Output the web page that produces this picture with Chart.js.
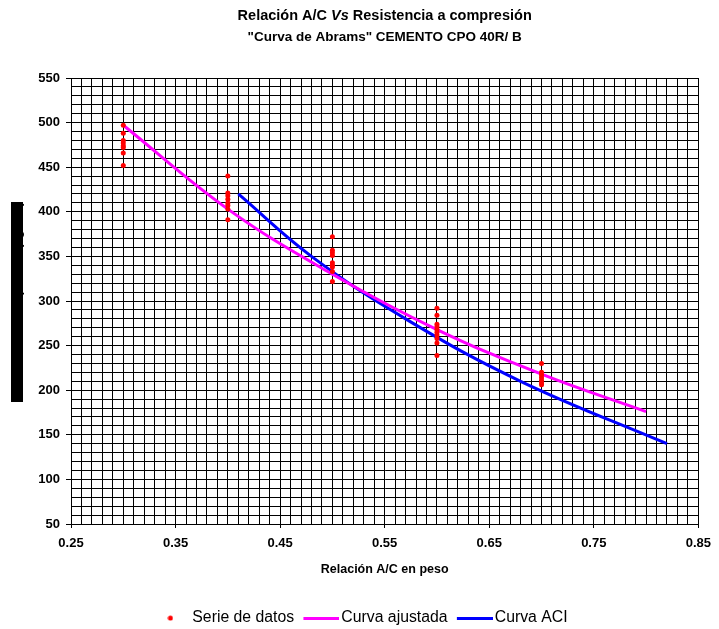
<!DOCTYPE html>
<html lang="es">
<head>
<meta charset="UTF-8">
<title>Relación A/C Vs Resistencia a compresión</title>
<script src="https://cdn.jsdelivr.net/npm/chart.js"></script>
<style>
  body { margin: 0; background: #fff; }
  #wrap { width: 719px; height: 629px; }
</style>
</head>
<body>
<div id="wrap"><canvas id="myChart"></canvas></div>
<script>
// ensayes por relacion A/C (kg/cm2)
const datos030 = [497, 488, 480, 477, 474, 472, 466, 452];
const datos040 = [440, 421, 418, 414, 410, 407, 403, 391];
const datos050 = [372, 357, 354, 351, 343, 340, 338, 333, 322];
const datos060 = [292, 284, 274, 271, 268, 265, 262, 258, 253, 239];
const datos070 = [230, 220, 217, 214, 211, 208, 206];
const relacionesAC = [0.3, 0.4, 0.5, 0.6, 0.7];

// curva ajustada (Abrams)
const ajustadaX = [0.3, 0.4, 0.5, 0.6, 0.7, 0.8];
const ajustadaY = [497, 403, 330, 268, 218, 176];

// curva ACI
const aciX = [0.41, 0.48, 0.57, 0.68, 0.82];
const aciY = [420, 350, 280, 210, 140];

const seriesLabels = ['Serie de datos', 'Curva ajustada', 'Curva ACI'];
const xTitle = 'Relación A/C en peso';
const yTitle = 'Resistencia a compresión (kg/cm²)';
const titulo1 = ['Relación A/C ', 'Vs', ' Resistencia a compresión'];
const titulo2 = '"Curva de Abrams" CEMENTO CPO 40R/ B';

const FONT = "'Liberation Sans', Arial, sans-serif";
const AREA_BOTTOM = 524;
const PAD_BOTTOM = -7;

const puntos = [];
[datos030, datos040, datos050, datos060, datos070].forEach((grupo, i) => {
    grupo.forEach(v => puntos.push({x: relacionesAC[i], y: v}));
});
const toXY = (xs, ys) => xs.map((x, i) => ({x: x, y: ys[i]}));

// legend marks
function markLine(color) {
    const c = document.createElement('canvas');
    c.width = 40; c.height = 3;
    const g = c.getContext('2d');
    g.fillStyle = color;
    g.fillRect(4, 0, 36, 3);
    return c;
}
function markDot(color) {
    const c = document.createElement('canvas');
    c.width = 6; c.height = 6;
    const g = c.getContext('2d');
    g.fillStyle = color;
    g.beginPath(); g.arc(3, 3, 2.5, 0, Math.PI * 2); g.fill();
    return c;
}
const legendMarks = [markDot('#ff0000'), markLine('#ff00ff'), markLine('#0000ff')];

const fondoPlugin = {
    id: 'fondo',
    afterLayout(chart) {
        // legend sits a bit right of centre in the original
        chart.legend.left += 19;
    },
    beforeDraw(chart) {
        const {ctx, chartArea} = chart;
        ctx.save();
        ctx.fillStyle = '#fff';
        ctx.fillRect(0, 0, chart.width, chart.height);
        // y axis title shows as a solid black bar in the original
        const cy = (chartArea.top + chartArea.bottom) / 2;
        ctx.fillStyle = '#000';
        ctx.fillRect(11, cy - 99, 12, 200);
        ctx.restore();
    }
};

const tituloPlugin = {
    id: 'titulo',
    afterDraw(chart) {
        const {ctx, chartArea} = chart;
        const cx = (chartArea.left + chartArea.right) / 2;
        const fonts = ['bold 14.5px ' + FONT, 'italic bold 14.5px ' + FONT, 'bold 14.5px ' + FONT];
        ctx.save();
        ctx.fillStyle = '#000';
        ctx.textBaseline = 'middle';
        ctx.textAlign = 'left';
        let total = 0;
        const widths = titulo1.map((t, i) => { ctx.font = fonts[i]; const w = ctx.measureText(t).width; total += w; return w; });
        let x = cx - total / 2;
        titulo1.forEach((t, i) => { ctx.font = fonts[i]; ctx.fillText(t, x, 16); x += widths[i]; });
        ctx.font = 'bold 13.5px ' + FONT;
        ctx.textAlign = 'center';
        ctx.fillText(titulo2, cx, 37);
        ctx.restore();
    }
};

const ctx = document.getElementById('myChart');
new Chart(ctx, {
    type: 'scatter',
    data: {
        datasets: [
            {
                label: seriesLabels[0],
                data: puntos,
                backgroundColor: '#ff0000',
                borderColor: '#ff0000',
                pointRadius: 2.5,
                pointBorderWidth: 0
            },
            {
                label: seriesLabels[1],
                data: toXY(ajustadaX, ajustadaY),
                showLine: true,
                tension: 0.4,
                borderColor: '#ff00ff',
                backgroundColor: '#ff00ff',
                borderWidth: 3,
                pointRadius: 0
            },
            {
                label: seriesLabels[2],
                data: toXY(aciX, aciY),
                showLine: true,
                tension: 0.4,
                borderColor: '#0000ff',
                backgroundColor: '#0000ff',
                borderWidth: 3,
                pointRadius: 0
            }
        ]
    },
    options: {
        responsive: true,
        maintainAspectRatio: false,
        animation: false,
        layout: { padding: { top: 78, left: 0, right: 14, bottom: PAD_BOTTOM } },
        plugins: {
            title: { display: false },
            tooltip: { enabled: false },
            legend: {
                position: 'bottom',
                labels: {
                    usePointStyle: true,
                    pointStyleWidth: 28,
                    padding: 11.25,
                    color: '#000',
                    font: { family: FONT, size: 15.8 },
                    generateLabels: chart => {
                        const items = Chart.defaults.plugins.legend.labels.generateLabels(chart);
                        items.forEach((it, i) => { it.pointStyle = legendMarks[i]; });
                        return items;
                    }
                }
            }
        },
        scales: {
            x: {
                type: 'linear',
                min: 0.25,
                max: 0.85,
                afterFit: s => { s.height = s.chart.height - PAD_BOTTOM - s.chart.legend.height - AREA_BOTTOM; },
                border: { color: '#000', width: 1 },
                grid: {
                    color: '#000',
                    lineWidth: 1,
                    tickLength: 4,
                    tickColor: c => (c.tick && Math.round(c.tick.value * 100) % 10 === 5) ? '#000' : 'rgba(0,0,0,0)'
                },
                ticks: {
                    stepSize: 0.01,
                    autoSkip: false,
                    maxRotation: 0,
                    padding: 8,
                    color: '#000',
                    font: { family: FONT, size: 13, weight: 'bold' },
                    callback: v => (Math.round(v * 100) % 10 === 5) ? v.toFixed(2) : ''
                },
                title: {
                    display: true,
                    text: xTitle,
                    color: '#000',
                    font: { family: FONT, size: 12.5, weight: 'bold' },
                    padding: { top: 4, bottom: 22 }
                }
            },
            y: {
                type: 'linear',
                min: 50,
                max: 550,
                afterFit: s => { s.width = 71; },
                border: { color: '#000', width: 1 },
                grid: {
                    color: '#000',
                    lineWidth: 1,
                    tickLength: 5,
                    tickColor: c => (c.tick && c.tick.value % 50 === 0) ? '#000' : 'rgba(0,0,0,0)'
                },
                ticks: {
                    stepSize: 10,
                    autoSkip: false,
                    padding: 6,
                    color: '#000',
                    font: { family: FONT, size: 13, weight: 'bold' },
                    callback: v => (v % 50 === 0) ? String(v) : ''
                },
                title: {
                    display: true,
                    text: yTitle,
                    color: '#000',
                    font: { family: FONT, size: 12, weight: 'bold' },
                    padding: { top: 10, bottom: 0 }
                }
            }
        }
    },
    plugins: [fondoPlugin, tituloPlugin]
});
</script>
</body>
</html>
